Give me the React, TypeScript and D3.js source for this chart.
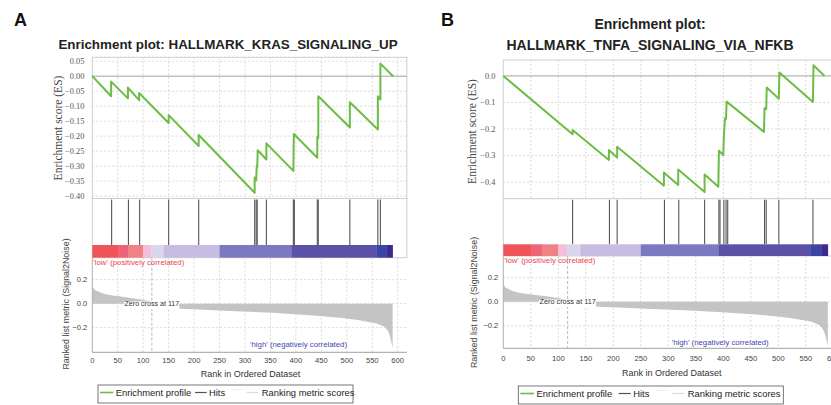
import React from "react";
import * as d3 from "d3";

const SANS = "'Liberation Sans', Arial, sans-serif";
const SERIF = "'Liberation Serif', 'Times New Roman', serif";

// ranks of the gene set members (hits)
const krasHits = [38, 71, 93, 150, 209, 319, 322, 324, 342, 395, 397, 442, 444, 506, 561, 566];
const tnfaHits = [126, 193, 207, 293, 319, 366, 392, 394, 401, 405, 408, 475, 478, 501, 563];

// running enrichment score vertices [rank, ES]
const krasES: [number, number][] = [
  [0, 0], [37, -0.067], [37, -0.018], [70, -0.074], [70, -0.038], [92, -0.08], [92, -0.056],
  [150, -0.156], [150, -0.13], [209, -0.233], [209, -0.196], [319, -0.389], [319, -0.338],
  [322, -0.347], [323, -0.3], [324, -0.305], [325, -0.247], [342, -0.278], [342, -0.224],
  [395, -0.316], [396, -0.193], [442, -0.272], [442, -0.202], [444, -0.206], [444, -0.067],
  [506, -0.171], [506, -0.087], [561, -0.178], [561, -0.067], [566, -0.078], [566, 0.042],
  [591, 0],
];
const tnfaES: [number, number][] = [
  [0, 0], [126, -0.22], [126, -0.204], [192, -0.317], [192, -0.279], [207, -0.308], [207, -0.267],
  [292, -0.414], [292, -0.364], [318, -0.411], [318, -0.353], [366, -0.438], [366, -0.372],
  [391, -0.418], [392, -0.282], [400, -0.298], [401, -0.229], [403, -0.16], [405, -0.162],
  [406, -0.097], [474, -0.211], [475, -0.122], [478, -0.125], [479, -0.044], [501, -0.086],
  [502, 0.013], [563, -0.098], [564, 0.04], [584, 0],
];

// ranked list metric (Signal2Noise), same list in both panels
const metricPos: [number, number][] = [
  [0, 0.158], [3, 0.125], [10, 0.105], [25, 0.08], [50, 0.063], [75, 0.048], [100, 0.032], [117, 0.016],
];
const metricNeg: [number, number][] = [
  [118, -0.03], [172, -0.042], [270, -0.06], [390, -0.085], [480, -0.115], [540, -0.15],
  [565, -0.175], [578, -0.21], [584, -0.26], [588, -0.33], [590, -0.37],
];
const zeroCross = 117;

// heat bar bins (rank edges)
const barEdges = [0, 50, 70, 100, 116, 140, 250, 392, 558, 578, 590];
const barColors = ["#ef5459", "#ee6477", "#f08184", "#f3bfdb", "#dad6ee", "#c7bde2", "#7b79c1", "#5b52a7", "#3b44a4", "#3d2a90"];

const rankTicks = [0, 50, 100, 150, 200, 250, 300, 350, 400, 450, 500, 550, 600];
const krasEsTicks = [0.05, 0, -0.05, -0.1, -0.15, -0.2, -0.25, -0.3, -0.35, -0.4];
const tnfaEsTicks = [0, -0.1, -0.2, -0.3, -0.4];
const metricTicks = [0.2, 0, -0.2];

type Layout = {
  tag: string; tagX: number; tagY: number;
  title: string[]; titleX: number; titleY: number[]; titleSize: number;
  x0: number; ppr: number; rightRank: number;
  esTop: number; esBottom: number; esDomain: [number, number]; esTicks: number[]; esFmt: string;
  esLabelX: number; esLabelY: number;
  barTop: number; barBottom: number;
  mBottom: number; mDomain: [number, number];
  mLabelX: number; mLabelY: number;
  tickY: number; axisTitleX: number; axisTitleY: number;
  zeroLabelY: number; lowY: number; highX: number; highY: number;
  legX: number; legY: number; legW: number; legS: number;
  hits: number[]; es: [number, number][];
};

const left: Layout = {
  tag: "A", tagX: 14, tagY: 26,
  title: ["Enrichment plot: HALLMARK_KRAS_SIGNALING_UP"], titleX: 228, titleY: [48.5], titleSize: 13.4,
  x0: 92.3, ppr: 0.509, rightRank: 618,
  esTop: 57.3, esBottom: 198.5, esDomain: [-0.408, 0.063], esTicks: krasEsTicks, esFmt: ".2f",
  esLabelX: 57.5, esLabelY: 128,
  barTop: 245, barBottom: 257.7,
  mBottom: 352.3, mDomain: [-0.405, 0.383],
  mLabelX: 66, mLabelY: 304,
  tickY: 362.5, axisTitleX: 250.5, axisTitleY: 376.5,
  zeroLabelY: 306, lowY: 264.5, highX: 250, highY: 346.7,
  legX: 98, legY: 385, legW: 255, legS: 1,
  hits: krasHits, es: krasES,
};

const right: Layout = {
  tag: "B", tagX: 441, tagY: 26,
  title: ["Enrichment plot:", "HALLMARK_TNFA_SIGNALING_VIA_NFKB"], titleX: 650, titleY: [29, 50], titleSize: 14,
  x0: 503.3, ppr: 0.55, rightRank: 618,
  esTop: 60, esBottom: 198.7, esDomain: [-0.463, 0.06], esTicks: tnfaEsTicks, esFmt: ".1f",
  esLabelX: 471.7, esLabelY: 131.5,
  barTop: 244.3, barBottom: 256,
  mBottom: 348.3, mDomain: [-0.388, 0.381],
  mLabelX: 474.3, mLabelY: 302.5,
  tickY: 360.5, axisTitleX: 671.7, axisTitleY: 375.5,
  zeroLabelY: 304.3, lowY: 263, highX: 671.7, highY: 345,
  legX: 518.3, legY: 386, legW: 265, legS: 1.035,
  hits: tnfaHits, es: tnfaES,
};

const GRID = "#d9d9d9";

const Panel = ({ L }: { L: Layout }) => {
  const x = d3.scaleLinear().domain([0, 600]).range([L.x0, L.x0 + 600 * L.ppr]);
  const xr = x(L.rightRank);
  const yEs = d3.scaleLinear().domain(L.esDomain).range([L.esBottom, L.esTop]);
  const yM = d3.scaleLinear().domain(L.mDomain).range([L.mBottom, L.barBottom]);
  const esLine = d3.line<[number, number]>().x((d) => x(d[0])).y((d) => yEs(d[1]));
  const area = d3
    .area<[number, number]>()
    .x((d) => x(d[0]))
    .y0(yM(0))
    .y1((d) => yM(d[1]))
    .curve(d3.curveMonotoneX);
  const fmt = d3.format(L.esFmt);
  const zx = x(zeroCross);
  const s = L.legS;
  const zw = 55 * s;
  const ly = L.legY + 10.5;

  return (
    <g>
      <text x={L.tagX} y={L.tagY} fontFamily={SANS} fontWeight="bold" fontSize={18} fill="#111">{L.tag}</text>
      {L.title.map((t, i) => (
        <text key={i} x={L.titleX} y={L.titleY[i]} textAnchor="middle" fontFamily={SANS} fontWeight="bold" fontSize={L.titleSize} fill="#222">{t}</text>
      ))}

      {/* ES panel */}
      <rect x={L.x0} y={L.esTop} width={xr - L.x0} height={L.esBottom - L.esTop} fill="white" stroke="#cfcfcf" />
      {rankTicks.slice(1).map((r) => (
        <line key={r} x1={x(r)} x2={x(r)} y1={L.esTop} y2={L.esBottom} stroke={GRID} strokeDasharray="2,2" />
      ))}
      {L.esTicks.map((t) => (
        <g key={t}>
          {t !== 0 && <line x1={L.x0} x2={xr} y1={yEs(t)} y2={yEs(t)} stroke={GRID} strokeDasharray="2,2" />}
          <text x={L.x0 - 8} y={yEs(t) + 3} textAnchor="end" fontFamily={SERIF} fontSize={8.3} fill="#555">{fmt(t)}</text>
        </g>
      ))}
      <line x1={L.x0} x2={xr} y1={yEs(0)} y2={yEs(0)} stroke="#a0a0a0" strokeWidth={1} />
      <path d={esLine(L.es) || ""} fill="none" stroke="#6cbd45" strokeWidth={2} strokeLinejoin="round" />
      <text transform={`translate(${L.esLabelX},${L.esLabelY}) rotate(-90)`} dy="0.35em" textAnchor="middle" fontFamily={SERIF} fontSize={11.5} fill="#444">Enrichment score (ES)</text>

      {/* hits panel */}
      <rect x={L.x0} y={L.esBottom} width={xr - L.x0} height={L.barBottom - L.esBottom} fill="white" stroke="#cfcfcf" />
      {L.hits.map((h, i) => (
        <line key={i} x1={x(h)} x2={x(h)} y1={L.esBottom + 1} y2={L.barTop} stroke="#555" strokeWidth={1.1} />
      ))}
      {barColors.map((c, i) => (
        <rect key={i} x={x(barEdges[i])} y={L.barTop} width={x(barEdges[i + 1]) - x(barEdges[i]) + 0.3} height={L.barBottom - L.barTop} fill={c} />
      ))}

      {/* ranked metric panel */}
      {rankTicks.slice(1).map((r) => (
        <line key={r} x1={x(r)} x2={x(r)} y1={L.barBottom} y2={L.mBottom} stroke={GRID} strokeDasharray="2,2" />
      ))}
      {metricTicks.map((t) => (
        <g key={t}>
          <line x1={L.x0} x2={xr} y1={yM(t)} y2={yM(t)} stroke={GRID} strokeDasharray="2,2" />
          <text x={L.x0 - 5} y={yM(t) + 2.7} textAnchor="end" fontFamily={SANS} fontSize={7.6} fill="#444">{d3.format(".1f")(t)}</text>
        </g>
      ))}
      <path d={area(metricPos) || ""} fill="#c4c4c4" />
      <path d={area(metricNeg) || ""} fill="#c4c4c4" />
      <line x1={zx} x2={zx} y1={L.barBottom} y2={L.mBottom} stroke="#b8b8b8" strokeDasharray="3,2" />
      <rect x={zx - zw / 2} y={yM(0) - 2.2} width={zw} height={7.5} fill="white" />
      <text x={zx} y={L.zeroLabelY} textAnchor="middle" fontFamily={SANS} fontSize={7.1 * s} fill="#333">Zero cross at 117</text>
      <line x1={L.x0} x2={L.x0} y1={L.barBottom} y2={L.mBottom} stroke="#b0b0b0" />
      <line x1={L.x0} x2={xr} y1={L.mBottom} y2={L.mBottom} stroke="#a0a0a0" />
      <text x={L.x0 + 1} y={L.lowY} fontFamily={SANS} fontSize={7.8} fill="#ee4450">'low' (positively correlated)</text>
      <text x={L.highX} y={L.highY} fontFamily={SANS} fontSize={7.8} fill="#4646b0">'high' (negatively correlated)</text>
      {rankTicks.map((r) => (
        <text key={r} x={x(r)} y={L.tickY} textAnchor="middle" fontFamily={SANS} fontSize={7.6} fill="#444">{r}</text>
      ))}
      <text x={L.axisTitleX} y={L.axisTitleY} textAnchor="middle" fontFamily={SANS} fontSize={9} fill="#333">Rank in Ordered Dataset</text>
      <text transform={`translate(${L.mLabelX},${L.mLabelY}) rotate(-90)`} dy="0.35em" textAnchor="middle" fontFamily={SANS} fontSize={8.9} fill="#444">Ranked list metric (Signal2Noise)</text>

      {/* legend */}
      <rect x={L.legX} y={L.legY} width={L.legW} height={18} fill="white" stroke="#555" strokeWidth={0.8} />
      <line x1={L.legX + 2 * s} x2={L.legX + 15.3 * s} y1={ly - 3} y2={ly - 3} stroke="#6cbd45" strokeWidth={1.6} />
      <text x={L.legX + 17.7 * s} y={ly} fontFamily={SANS} fontSize={9.4} fill="#222">Enrichment profile</text>
      <line x1={L.legX + 97 * s} x2={L.legX + 108.7 * s} y1={ly - 3} y2={ly - 3} stroke="#555" strokeWidth={1.2} />
      <text x={L.legX + 111 * s} y={ly} fontFamily={SANS} fontSize={9.4} fill="#222">Hits</text>
      <line x1={L.legX + 133.7 * s} x2={L.legX + 143.7 * s} y1={ly - 6} y2={ly - 6} stroke="#eeeeee" strokeWidth={1} />
      <line x1={L.legX + 148.7 * s} x2={L.legX + 160.3 * s} y1={ly - 3} y2={ly - 3} stroke="#dcdcdc" strokeWidth={1.2} />
      <text x={L.legX + 163.7 * s} y={ly} fontFamily={SANS} fontSize={9.4} fill="#222">Ranking metric scores</text>
    </g>
  );
};

export default function App() {
  return (
    <svg width={831} height={405} style={{ position: "absolute", left: 0, top: 0, background: "white" }}>
      <rect width={831} height={405} fill="white" />
      <Panel L={left} />
      <Panel L={right} />
    </svg>
  );
}
